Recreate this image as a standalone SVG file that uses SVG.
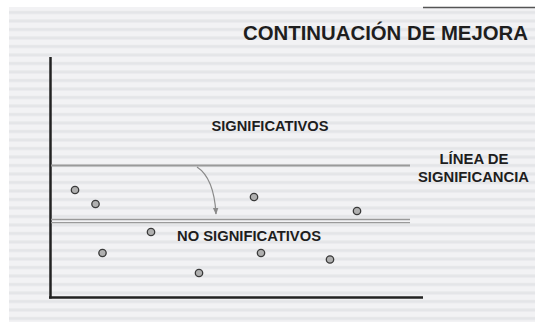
<svg xmlns="http://www.w3.org/2000/svg" width="535" height="324" viewBox="0 0 535 324">
<defs>
<pattern id="stripes" x="0" y="7" width="10" height="8.5" patternUnits="userSpaceOnUse">
<rect x="0" y="0" width="10" height="8.5" fill="#f2f2f4"/>
<rect x="0" y="4" width="10" height="3" fill="#e4e5e8"/>
</pattern>
<marker id="arr" viewBox="0 0 10 10" refX="9" refY="5" markerWidth="7" markerHeight="7" orient="auto" markerUnits="userSpaceOnUse">
<path d="M0,1 L10,5 L0,9 Z" fill="#8a8a8a"/>
</marker>
<style>
.t{font-family:"Liberation Sans",Arial,sans-serif;font-weight:bold;fill:#1e1e1e;}
.dot{fill:#b0b0b0;stroke:#3a3a3a;stroke-width:1.3;}
.sig{stroke:#9a9a9a;fill:none;}
</style>
</defs>
<rect width="535" height="324" fill="#ffffff"/>
<rect x="9" y="7" width="526" height="315" fill="url(#stripes)"/>
<line x1="423" y1="7.5" x2="535" y2="7.5" stroke="#555" stroke-width="1.5"/>
<text class="t" x="528" y="40" font-size="20" text-anchor="end" textLength="285" lengthAdjust="spacingAndGlyphs">CONTINUACIÓN DE MEJORA</text>
<g id="connectors">
<line x1="50.5" y1="57" x2="50.5" y2="298.5" stroke="#222" stroke-width="2.5"/>
<line x1="49" y1="297.5" x2="423" y2="297.5" stroke="#222" stroke-width="2.5"/>
<line class="sig" x1="51" y1="165.5" x2="410" y2="165.5" stroke-width="2"/>
<line class="sig" x1="51" y1="219.5" x2="410" y2="219.5" stroke-width="1.3"/>
<line class="sig" x1="51" y1="222.7" x2="410" y2="222.7" stroke-width="1.3"/>
<path d="M197,167 Q214,178 216,214" fill="none" stroke="#8a8a8a" stroke-width="1.2" marker-end="url(#arr)"/>
</g>
<g id="significativos"><text class="t" x="270" y="131" font-size="14" text-anchor="middle" textLength="117" lengthAdjust="spacingAndGlyphs">SIGNIFICATIVOS</text></g>
<g id="no-significativos"><text class="t" x="249" y="241" font-size="14" text-anchor="middle" textLength="144" lengthAdjust="spacingAndGlyphs">NO SIGNIFICATIVOS</text></g>
<g id="linea"><text class="t" x="474" y="164" font-size="14" text-anchor="middle" textLength="69" lengthAdjust="spacingAndGlyphs">LÍNEA DE</text>
<text class="t" x="473.5" y="182" font-size="14" text-anchor="middle" textLength="111" lengthAdjust="spacingAndGlyphs">SIGNIFICANCIA</text></g>
<g id="dots">
<circle class="dot" cx="75" cy="190" r="3.7"/>
<circle class="dot" cx="95.5" cy="204" r="3.7"/>
<circle class="dot" cx="151" cy="232" r="3.7"/>
<circle class="dot" cx="102.5" cy="253" r="3.7"/>
<circle class="dot" cx="199" cy="273" r="3.7"/>
<circle class="dot" cx="254" cy="197" r="3.7"/>
<circle class="dot" cx="261" cy="253" r="3.7"/>
<circle class="dot" cx="330" cy="259.5" r="3.7"/>
<circle class="dot" cx="357" cy="211" r="3.7"/>
</g>
</svg>
